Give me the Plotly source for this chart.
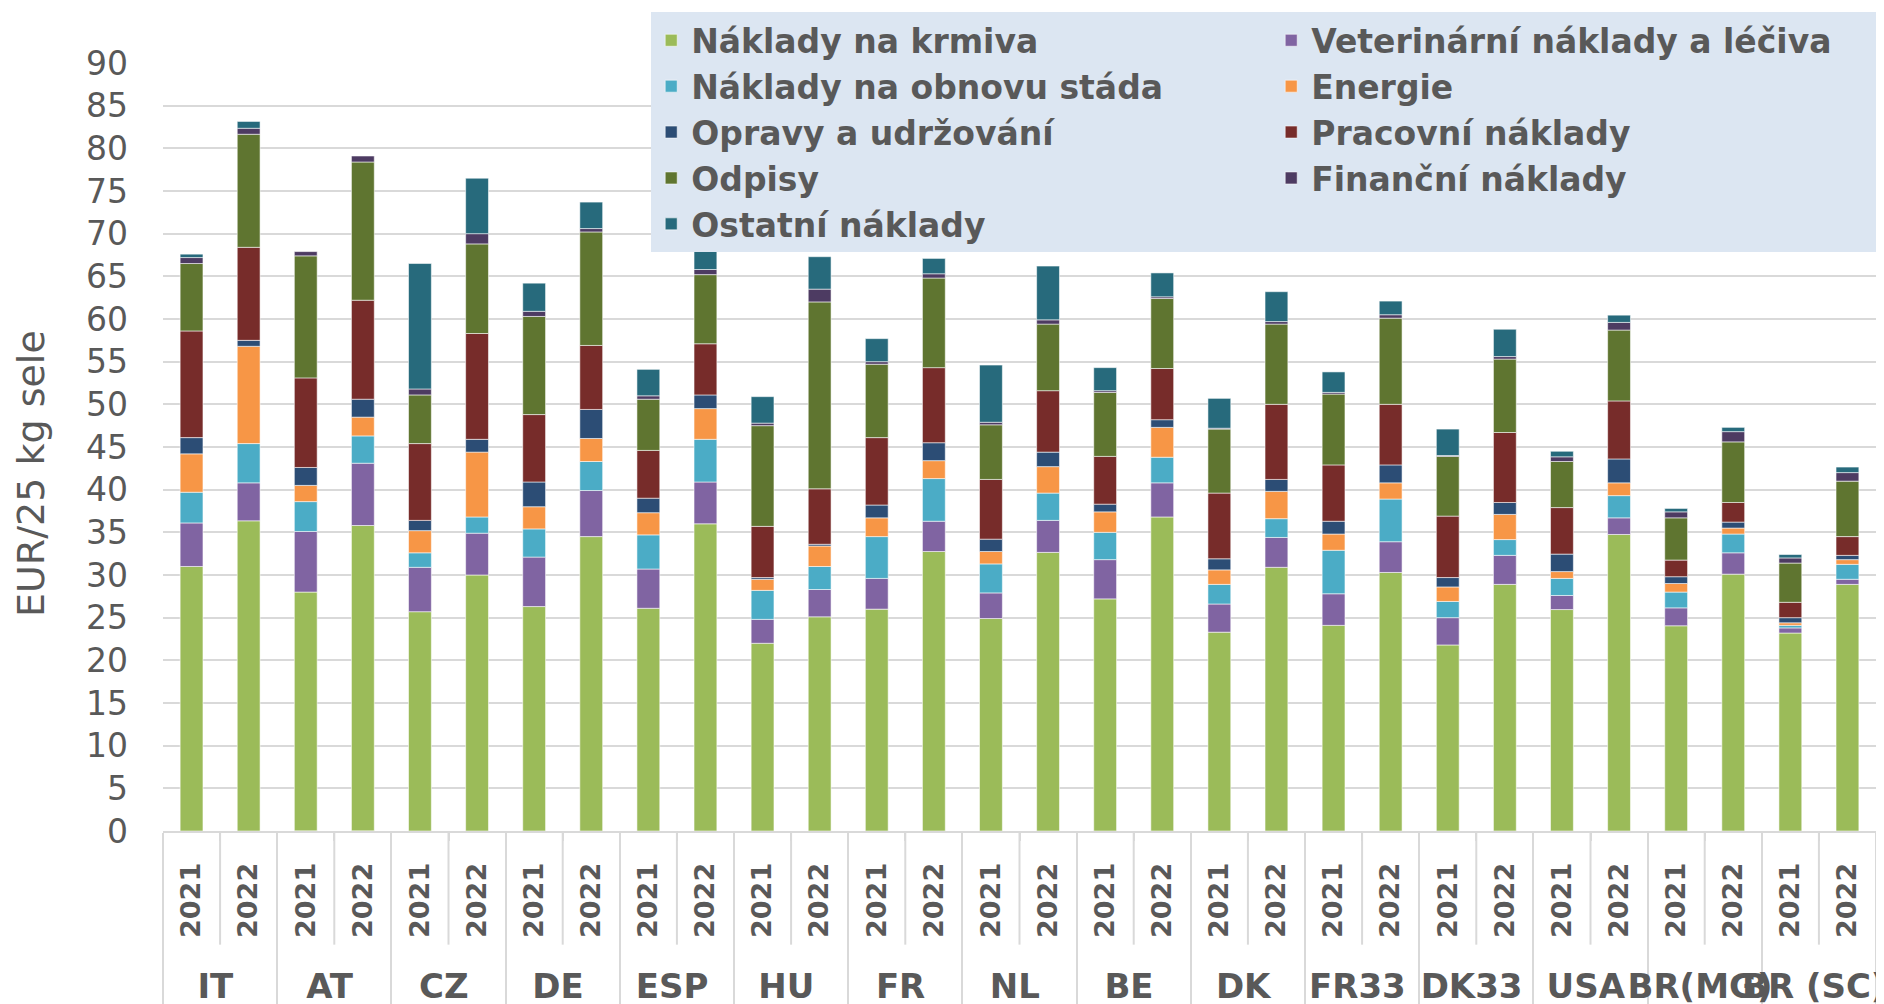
import plotly.graph_objects as go

# groups on the x axis (outer level) and years (inner level)
countries = ['IT', 'AT', 'CZ', 'DE', 'ESP', 'HU', 'FR', 'NL', 'BE', 'DK',
             'FR33', 'DK33', 'USA', 'BR(MG)', 'BR (SC)']
years = ['2021', '2022']

# EUR / 25 kg sele, order: IT21, IT22, AT21, AT22, ...
naklady_krmiva = [31.0, 36.35, 28.0, 35.8, 25.7, 30.0, 26.3, 34.5, 26.1, 36.0,
                  22.0, 25.1, 26.0, 32.75, 24.9, 32.65, 27.2, 36.8, 23.3, 30.9,
                  24.1, 30.3, 21.8, 28.9, 25.95, 34.75, 24.05, 30.1, 23.2, 28.9]
veterinarni = [5.1, 4.45, 7.1, 7.3, 5.2, 4.9, 5.8, 5.4, 4.6, 4.9,
               2.8, 3.2, 3.6, 3.55, 3.0, 3.75, 4.6, 4.0, 3.3, 3.5,
               3.7, 3.6, 3.2, 3.4, 1.65, 1.95, 2.1, 2.5, 0.6, 0.6]
obnova_stada = [3.6, 4.6, 3.5, 3.2, 1.7, 1.9, 3.3, 3.4, 4.0, 5.0,
                3.4, 2.7, 4.9, 5.0, 3.4, 3.2, 3.2, 3.0, 2.3, 2.2,
                5.1, 5.0, 1.9, 1.85, 2.0, 2.6, 1.85, 2.2, 0.3, 1.75]
energie = [4.5, 11.4, 1.9, 2.2, 2.6, 7.6, 2.6, 2.7, 2.6, 3.6,
           1.3, 2.4, 2.2, 2.1, 1.45, 3.1, 2.4, 3.5, 1.7, 3.2,
           1.9, 1.9, 1.7, 2.95, 0.8, 1.5, 1.0, 0.7, 0.3, 0.55]
opravy = [1.9, 0.7, 2.1, 2.1, 1.2, 1.5, 2.9, 3.4, 1.7, 1.6,
          0.2, 0.2, 1.5, 2.1, 1.45, 1.7, 0.9, 0.9, 1.3, 1.4,
          1.5, 2.1, 1.1, 1.4, 2.05, 2.8, 0.8, 0.7, 0.6, 0.5]
pracovni = [12.5, 10.9, 10.5, 11.6, 9.0, 12.4, 7.9, 7.5, 5.6, 6.0,
            6.0, 6.5, 7.9, 8.8, 7.0, 7.2, 5.6, 6.0, 7.7, 8.8,
            6.6, 7.1, 7.2, 8.2, 5.45, 6.8, 1.95, 2.3, 1.8, 2.2]
odpisy = [7.9, 13.25, 14.3, 16.2, 5.7, 10.5, 11.5, 13.3, 6.0, 8.1,
          11.8, 21.9, 8.6, 10.5, 6.4, 7.8, 7.5, 8.2, 7.5, 9.4,
          8.3, 10.1, 7.0, 8.6, 5.4, 8.3, 4.95, 7.1, 4.6, 6.5]
financni = [0.7, 0.7, 0.5, 0.7, 0.7, 1.2, 0.6, 0.4, 0.4, 0.6,
            0.3, 1.5, 0.3, 0.5, 0.3, 0.5, 0.2, 0.2, 0.1, 0.3,
            0.2, 0.4, 0.1, 0.3, 0.55, 0.9, 0.7, 1.2, 0.6, 1.0]
ostatni = [0.4, 0.8, -0.2, -0.2, 14.7, 6.5, 3.3, 3.1, 3.1, 3.2,
           3.1, 3.8, 2.7, 1.8, 6.7, 6.3, 2.7, 2.8, 3.5, 3.5,
           2.4, 1.6, 3.1, 3.2, 0.65, 0.85, 0.4, 0.5, 0.4, 0.65]

series = [
    ('Náklady na krmiva', naklady_krmiva, '#9bbb59'),
    ('Veterinární náklady a léčiva', veterinarni, '#8064a2'),
    ('Náklady na obnovu stáda', obnova_stada, '#4bacc6'),
    ('Energie', energie, '#f79646'),
    ('Opravy a udržování', opravy, '#2c4d75'),
    ('Pracovní náklady', pracovni, '#772c2a'),
    ('Odpisy', odpisy, '#5f7530'),
    ('Finanční náklady', financni, '#4d3b62'),
    ('Ostatní náklady', ostatni, '#276a7c'),
]

TEXT = '#595959'
GRID = '#d9d9d9'

# country labels a bit larger than the year labels; the leading blanks on the
# years push the country row further down
outer = ['<span style="font-size:34px">%s</span>' % c for c in countries for _ in years]
inner = ['\u00a0\u00a0\u00a0' + y for y in years] * len(countries)
x = [outer, inner]

fig = go.Figure()
for name, vals, color in series:
    fig.add_trace(go.Bar(
        x=x, y=vals, name=name,
        marker=dict(color=color, line=dict(color='rgba(255,255,255,0.55)', width=1)),
    ))

# short separators between the two years of one country
for i in range(len(countries)):
    fig.add_shape(type='line', xref='x', yref='paper',
                  x0=2 * i + 0.5, x1=2 * i + 0.5, y0=0, y1=-0.148,
                  line=dict(color=GRID, width=2))

# y axis title, placed by hand
fig.add_annotation(text='EUR/25 kg sele', textangle=-90,
                   xref='paper', yref='paper', x=-0.077, y=0.465,
                   xanchor='center', yanchor='middle', showarrow=False,
                   font=dict(size=38, color=TEXT))

fig.update_layout(
    width=1884,
    height=1004,
    barmode='relative',
    bargap=0.6,
    plot_bgcolor='white',
    paper_bgcolor='white',
    margin=dict(l=155, r=16, t=55, b=181, autoexpand=False),
    font=dict(family='DejaVu Sans', color=TEXT),
    showlegend=True,
    legend=dict(
        orientation='h', x=0.285, y=1.066, xanchor='left', yanchor='top',
        bgcolor='#dce6f2', font=dict(size=33, weight='bold', color=TEXT),
        entrywidth=575, traceorder='normal',
    ),
    xaxis=dict(
        type='multicategory',
        tickangle=-90,
        tickfont=dict(size=27, weight='bold', color=TEXT),
        showline=True, linecolor=GRID, linewidth=2,
        ticks='outside', ticklen=8, tickcolor=GRID, tickwidth=2,
        ticklabelstandoff=19,
        dividercolor=GRID, dividerwidth=2,
        showgrid=False,
    ),
    yaxis=dict(
        range=[0, 90], dtick=5,
        showgrid=True, gridcolor=GRID, gridwidth=2,
        zeroline=False, showline=False,
        tickfont=dict(size=33, color=TEXT),
        ticklabelstandoff=34,
    ),
)

fig.write_html('out.html')
